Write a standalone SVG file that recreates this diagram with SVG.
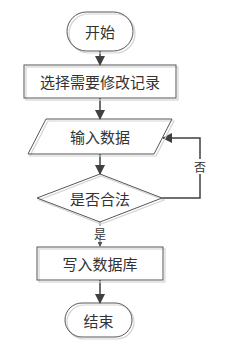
<svg xmlns="http://www.w3.org/2000/svg" width="225" height="351" viewBox="0 0 225 351">
<style>
.sh{fill:none;stroke:#d4d4d4;stroke-width:1.2}
.bd{fill:none;stroke:#555;stroke-width:1}
.t{font-family:"Noto Sans CJK SC","Liberation Sans",sans-serif;font-size:15px;fill:#333;text-anchor:middle;dominant-baseline:central}
.s{font-family:"Noto Sans CJK SC","Liberation Sans",sans-serif;font-size:12px;fill:#333;text-anchor:middle;dominant-baseline:central}
.ln{fill:none;stroke:#404040;stroke-width:1.5}
.thin{fill:none;stroke:#666;stroke-width:1}
</style>
<defs>
<marker id="ah" markerWidth="10" markerHeight="10" refX="9" refY="5" orient="auto" markerUnits="userSpaceOnUse">
<path d="M0,0 L10,5 L0,10 Z" fill="#404040"/>
</marker>
<marker id="sm" markerWidth="5" markerHeight="5" refX="4" refY="2.5" orient="auto" markerUnits="userSpaceOnUse">
<path d="M0,0 L5,2.5 L0,5 Z" fill="#555"/>
</marker>
</defs>
<rect width="225" height="351" fill="#fff"/>
<g id="connectors">
<line class="ln" x1="100" y1="51" x2="100" y2="65" marker-end="url(#ah)"/>
<line class="ln" x1="100" y1="98" x2="100" y2="119" marker-end="url(#ah)"/>
<line class="ln" x1="100" y1="154" x2="100" y2="174" marker-end="url(#ah)"/>
<polyline class="ln" points="162,198 200,198 200,138 163,138" marker-end="url(#ah)"/>
<line class="thin" x1="100" y1="222" x2="100" y2="246" marker-end="url(#sm)"/>
<line class="ln" x1="100" y1="280" x2="100" y2="303" marker-end="url(#ah)"/>
<rect x="193" y="159" width="14" height="15" fill="#fff"/>
<text class="s" x="200" y="166">否</text>
<rect x="93" y="226" width="14" height="14" fill="#fff"/>
<text class="s" x="100" y="233">是</text>
</g>
<g id="start">
<rect class="sh" x="69" y="14" width="66" height="39" rx="19.5"/>
<rect class="bd" x="67" y="12" width="66" height="39" rx="19.5"/>
<text class="t" x="100" y="31">开始</text>
</g>
<g id="select">
<rect class="sh" x="26" y="67" width="152" height="33"/>
<rect class="bd" x="24" y="65" width="152" height="33"/>
<text class="t" x="100" y="81.5">选择需要修改记录</text>
</g>
<g id="input">
<polygon class="sh" points="48,121 174,121 156,156 30,156"/>
<polygon class="bd" points="46,119 172,119 154,154 28,154"/>
<text class="t" x="100" y="136.5">输入数据</text>
</g>
<g id="valid">
<polygon class="sh" points="101,176 164,200 101,224 39,200"/>
<polygon class="bd" points="100,174 162,198 100,222 37,198"/>
<text class="t" x="100" y="198">是否合法</text>
</g>
<g id="write">
<rect class="sh" x="39" y="249" width="126" height="33"/>
<rect class="bd" x="37" y="247" width="126" height="33"/>
<text class="t" x="100" y="263.5">写入数据库</text>
</g>
<g id="end">
<rect class="sh" x="67" y="305" width="67" height="34" rx="17"/>
<rect class="bd" x="65" y="303" width="67" height="34" rx="17"/>
<text class="t" x="98.5" y="320">结束</text>
</g>
</svg>
